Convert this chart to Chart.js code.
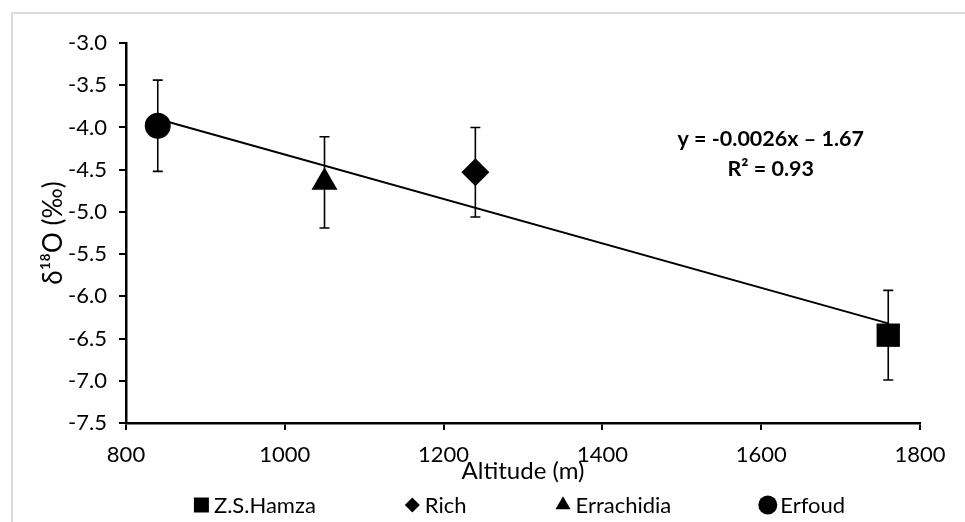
<!DOCTYPE html>
<html>
<head>
<meta charset="utf-8">
<script src="https://cdn.jsdelivr.net/npm/chart.js@4.4.1/dist/chart.umd.min.js"></script>
<style>
    html, body { margin: 0; padding: 0; background: #fff; overflow: hidden; }
    #wrap { position: relative; width: 965px; height: 522px; }
    #frame {
        position: absolute; left: 11px; top: 12px; width: 965px; height: 522px;
        border-left: 2px solid #d9d9d9; border-top: 2px solid #d9d9d9;
    }
    #chart { position: absolute; left: 0; top: 0; }
</style>
</head>
<body>
<div id="wrap">
    <div id="frame"></div>
    <canvas id="chart" width="965" height="522"></canvas>
</div>
<script>
// Sites (legend order)
const sites = ['Z.S.Hamza', 'Rich', 'Errachidia', 'Erfoud'];
const altitude = [1760, 1240, 1050, 840];
const d18O = [-6.46, -4.53, -4.65, -3.98];
const errors = [0.53, 0.53, 0.54, 0.54];

// Linear fit line, as drawn
const trendX = [840, 1760];
const trendY = [-3.90, -6.32];
const equationText = ['y = -0.0026x \u2013 1.67', 'R\u00b2 = 0.93'];

// Axis ticks
const xTicks = [800, 1000, 1200, 1400, 1600, 1800];
const yTicks = [-3.0, -3.5, -4.0, -4.5, -5.0, -5.5, -6.0, -6.5, -7.0, -7.5];

// Marker styles
const pointStyles = ['rect', 'rectRot', 'triangle', 'circle'];
const pointSizes = [16.5, 14, 15, 13];
const legendSizes = [10.6, 7.5, 8.7, 9.5];

Chart.defaults.font.family = 'Lato';
Chart.defaults.color = '#000';

const datasets = sites.map((name, i) => ({
    label: name,
    data: [{ x: altitude[i], y: d18O[i] }],
    pointStyle: pointStyles[i],
    pointRadius: pointSizes[i],
    pointHoverRadius: pointSizes[i],
    backgroundColor: '#000',
    borderColor: '#000',
    borderWidth: 0,
    legendSize: legendSizes[i],
    err: errors[i]
}));
datasets.push({
    label: 'trend',
    data: trendX.map((x, i) => ({ x, y: trendY[i] })),
    showLine: true,
    borderColor: '#000',
    borderWidth: 2,
    pointRadius: 0,
    pointHoverRadius: 0,
    fill: false
});

// Vertical error bars with caps
const errorBars = {
    id: 'errorBars',
    beforeDatasetsDraw(chart) {
        const { ctx, scales: { x, y } } = chart;
        ctx.save();
        ctx.strokeStyle = '#000';
        ctx.lineWidth = 1.6;
        chart.data.datasets.forEach(ds => {
            if (ds.err === undefined) return;
            ds.data.forEach(p => {
                const px = x.getPixelForValue(p.x);
                const top = y.getPixelForValue(p.y + ds.err);
                const bot = y.getPixelForValue(p.y - ds.err);
                ctx.beginPath();
                ctx.moveTo(px, top); ctx.lineTo(px, bot);
                ctx.moveTo(px - 5, top); ctx.lineTo(px + 5, top);
                ctx.moveTo(px - 5, bot); ctx.lineTo(px + 5, bot);
                ctx.stroke();
            });
        });
        ctx.restore();
    }
};

// Regression equation, placed in data coordinates
const equation = {
    id: 'equation',
    afterDraw(chart) {
        const { ctx, scales: { x, y } } = chart;
        ctx.save();
        ctx.font = 'bold 21.5px Lato';
        ctx.fillStyle = '#000';
        ctx.textAlign = 'center';
        ctx.textBaseline = 'middle';
        ctx.fillText(equationText[0], x.getPixelForValue(1612), y.getPixelForValue(-4.14));
        ctx.fillText(equationText[1], x.getPixelForValue(1612), y.getPixelForValue(-4.49));
        ctx.restore();
    }
};

// Excel-like legend row under the axis title
const bottomLegend = {
    id: 'bottomLegend',
    afterDraw(chart) {
        const { ctx, chartArea } = chart;
        const items = chart.data.datasets.filter(ds => ds.err !== undefined);
        const symW = 17, symGap = 4, itemGap = 88, cy = 505;
        ctx.save();
        ctx.font = '22px Lato';
        const widths = items.map(ds => symW + symGap + ctx.measureText(ds.label).width);
        const total = widths.reduce((a, b) => a + b, 0) + itemGap * (items.length - 1);
        let cx = (chartArea.left + chartArea.right) / 2 - total / 2 - 4;
        ctx.fillStyle = '#000';
        ctx.strokeStyle = '#000';
        ctx.textBaseline = 'middle';
        items.forEach((ds, i) => {
            Chart.helpers.drawPoint(ctx, {
                pointStyle: ds.pointStyle, radius: ds.legendSize, rotation: 0, borderWidth: 0
            }, cx + symW / 2, cy);
            ctx.fillText(ds.label, cx + symW + symGap, cy + 1);
            cx += widths[i] + itemGap;
        });
        ctx.restore();
    }
};

new Chart(document.getElementById('chart').getContext('2d'), {
    type: 'scatter',
    data: { datasets },
    options: {
        responsive: false,
        animation: false,
        layout: { padding: { top: 43, right: 45, bottom: 0, left: 0 } },
        plugins: {
            legend: { display: false },
            tooltip: { enabled: false }
        },
        scales: {
            x: {
                type: 'linear',
                min: xTicks[0],
                max: xTicks[xTicks.length - 1],
                afterBuildTicks: s => { s.ticks = xTicks.map(v => ({ value: v })); },
                afterFit: s => { s.height = 99; },
                grid: { drawOnChartArea: false, drawTicks: true, tickLength: 7, color: '#000', lineWidth: 2 },
                border: { display: true, color: '#000', width: 2.5 },
                ticks: { font: { size: 22 }, padding: 12, maxRotation: 0, callback: v => String(v) },
                title: { display: true, text: 'Altitude (m)', font: { size: 24 }, padding: { top: 0, bottom: 36 } }
            },
            y: {
                type: 'linear',
                min: yTicks[yTicks.length - 1],
                max: yTicks[0],
                afterBuildTicks: s => { s.ticks = yTicks.map(v => ({ value: v })); },
                afterFit: s => { s.width = 126; },
                grid: { drawOnChartArea: false, drawTicks: true, tickLength: 7, color: '#000', lineWidth: 2 },
                border: { display: true, color: '#000', width: 2.5 },
                ticks: { font: { size: 22 }, padding: 12, callback: v => v.toFixed(1) },
                title: { display: true, text: '\u03b4\u00b9\u2078O (\u2030)', font: { size: 26 }, padding: { top: 38, bottom: 0 } }
            }
        }
    },
    plugins: [errorBars, equation, bottomLegend]
});
</script>
</body>
</html>
